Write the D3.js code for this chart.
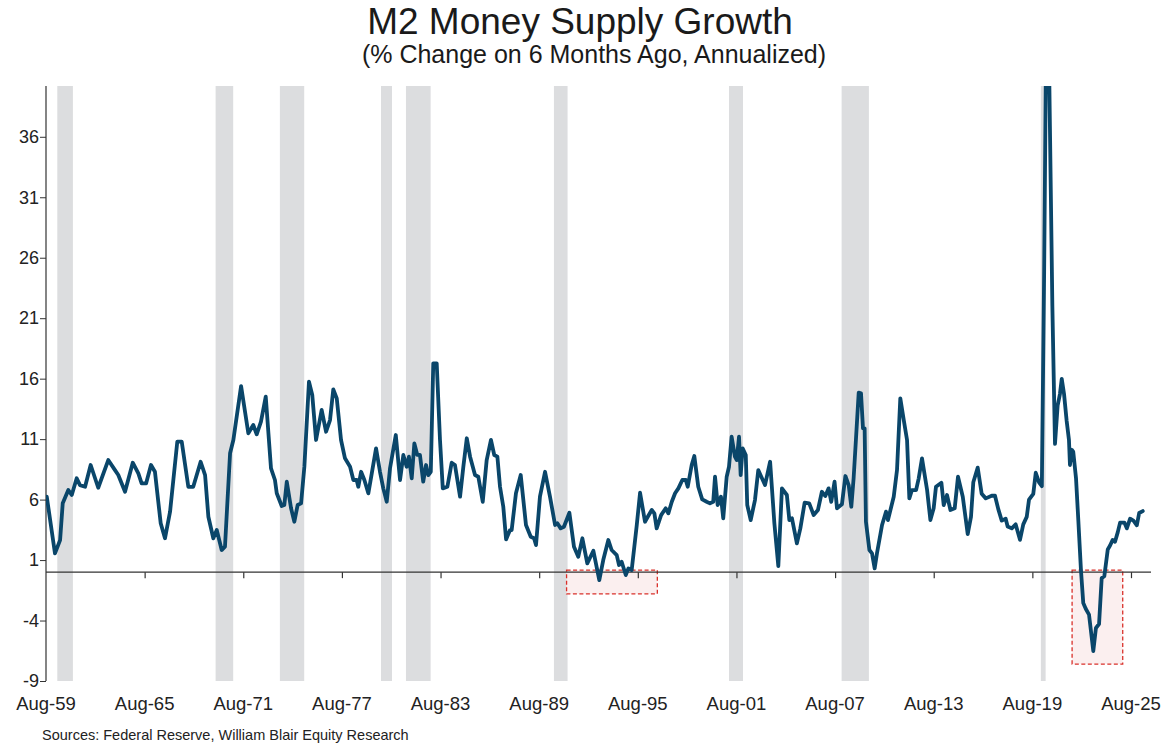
<!DOCTYPE html>
<html><head><meta charset="utf-8">
<script src="https://cdn.jsdelivr.net/npm/d3@7"></script>
<style>
html,body{margin:0;padding:0;background:#fff;}
svg{display:block;font-family:"Liberation Sans",Arial,sans-serif;}
</style></head>
<body>
<svg id="chart" width="1170" height="746"></svg>
<script>
// ---- data (decimal years, % change on 6 months ago annualized) ----
const dates = [1959.63,1960.13,1960.44,1960.6,1960.94,1961.15,1961.45,1961.65,1961.96,1962.3,1962.76,1963.37,1963.78,1963.98,1964.39,1964.86,1965.2,1965.4,1965.67,1965.97,1966.21,1966.56,1966.82,1967.13,1967.57,1967.84,1968.24,1968.54,1968.99,1969.26,1969.46,1969.76,1969.97,1970.27,1970.47,1970.78,
1970.98,1971.45,1971.89,1972.19,1972.4,1972.66,1972.95,1973.27,1973.51,1973.62,1973.92,1974.08,1974.23,1974.49,1974.69,1974.89,1975.1,1975.3,1975.58,1975.78,1976.01,1976.35,1976.62,1976.86,1977.06,1977.27,1977.53,1977.77,1978.08,1978.28,1978.48,1978.58,1978.75,1978.95,1979.19,1979.4,1979.66,1979.9,1980.1,1980.31,1980.51,1980.86,1981.12,1981.32,1981.52,1981.66,1981.83,1981.99,
1982.17,1982.33,1982.53,1982.7,1982.84,1982.99,1983.14,1983.35,1983.55,1983.72,1984.0,1984.26,1984.46,1984.77,1984.97,1985.18,1985.38,1985.68,1985.88,1986.15,1986.39,1986.65,1986.85,1987.04,1987.2,1987.4,1987.57,1987.81,1987.91,1988.17,1988.46,1988.78,1989.07,1989.27,1989.39,1989.63,1989.94,1990.24,1990.55,1990.69,1990.89,1991.09,1991.42,1991.7,1991.96,1992.21,1992.51,1992.88,1993.24,
1993.48,1993.79,1993.99,1994.3,1994.44,1994.6,1994.85,1995.01,1995.21,1995.52,1995.72,1996.02,1996.19,1996.43,1996.59,1996.73,1997.0,1997.28,1997.44,1997.65,1997.85,1998.05,1998.29,1998.5,1998.62,1998.86,1999.02,1999.26,1999.5,1999.77,1999.97,2000.17,2000.28,2000.44,2000.64,2000.78,2000.99,2001.13,2001.29,2001.49,2001.6,2001.74,2001.84,2001.96,2002.15,2002.24,2002.45,2002.71,2002.91,2003.32,2003.63,2003.89,2004.13,
2004.35,2004.65,2004.8,2004.96,2005.26,2005.47,2005.73,2006.01,2006.28,2006.54,2006.78,2006.99,2007.19,2007.35,2007.55,2007.7,2008.0,2008.21,2008.41,2008.57,2008.71,2008.85,2009.02,2009.16,2009.28,2009.38,2009.46,2009.67,2009.83,2009.99,2010.13,2010.44,2010.68,2010.8,2011.15,2011.35,2011.55,2011.76,2011.96,2012.1,2012.26,2012.51,2012.67,2012.87,2013.18,2013.38,2013.58,2013.72,2014.05,2014.19,2014.39,2014.6,2014.86,2015.06,2015.35,
2015.65,2015.85,2015.99,2016.26,2016.5,2016.75,2017.11,2017.31,2017.51,2017.72,2017.96,2018.08,2018.33,2018.57,2018.83,2019.03,2019.24,2019.38,2019.64,2019.79,2019.99,2020.16,2020.3,2020.42,2020.58,2020.8,2020.96,2021.12,2021.26,2021.37,2021.51,2021.67,2021.81,2021.87,2021.98,2022.07,2022.24,2022.38,2022.54,2022.68,2022.83,2023.03,2023.29,2023.45,2023.64,2023.8,2023.96,2024.17,2024.31,2024.47,2024.61,2024.78,2024.92,2025.18,2025.33,2025.53,2025.73,2025.94,2026.08,2026.3];
const values = [6.24,1.55,2.65,5.69,6.79,6.38,7.76,7.2,7.06,8.86,6.98,9.27,8.44,8.03,6.65,9.05,8.17,7.34,7.34,8.86,8.3,4.04,2.8,5.0,10.79,10.79,7.06,7.06,9.13,8.03,4.58,2.8,3.48,1.83,2.1,9.83,
10.93,15.39,11.48,12.17,11.4,12.44,14.51,8.59,7.62,6.52,5.47,5.55,7.48,5.28,4.17,5.55,5.69,8.72,15.75,14.65,10.93,13.41,11.61,12.58,15.12,14.37,10.93,9.41,8.72,7.62,7.62,7.06,8.3,7.62,6.52,8.17,10.24,8.3,6.93,5.82,8.59,11.34,7.62,9.69,8.72,9.55,7.76,10.65,
9.69,9.69,7.48,8.86,8.03,8.3,17.27,17.27,10.93,6.93,7.06,9.05,8.86,6.24,8.72,11.07,9.55,8.03,7.89,5.82,9.27,10.93,9.69,9.55,7.06,5.41,2.71,3.48,3.48,6.52,8.03,3.9,2.93,2.8,2.24,6.24,8.3,6.24,3.9,4.04,3.62,3.76,4.91,2.1,1.27,2.8,0.73,1.77,-0.65,
1.0,2.66,1.83,1.41,0.59,0.86,-0.24,0.31,0.17,3.9,6.57,4.17,4.58,5.14,4.86,3.62,4.72,5.28,4.86,5.82,6.52,6.93,7.62,7.62,7.06,8.86,9.6,7.06,6.02,5.82,5.69,5.82,7.89,5.55,6.24,4.45,7.89,8.72,11.2,9.55,9.27,11.2,8.03,10.24,9.69,5.55,4.31,5.96,8.44,7.2,9.13,4.04,0.5,
6.93,6.38,4.31,4.45,2.38,3.62,5.74,5.69,4.72,5.14,6.65,6.29,6.93,5.82,7.48,5.28,5.61,7.95,7.2,5.41,7.76,10.93,14.84,14.79,11.89,11.89,4.17,1.83,1.55,0.31,1.55,3.9,5.0,4.31,6.24,8.44,14.37,12.58,10.93,6.1,6.79,6.79,7.76,9.41,6.79,4.31,5.28,7.06,7.39,5.55,6.38,5.14,5.28,7.89,6.24,
3.15,4.57,7.43,8.64,6.48,6.1,6.32,6.32,5.21,4.26,4.42,3.78,3.62,3.95,2.67,3.95,4.57,6.0,6.48,8.22,7.43,7.11,24.85,44.0,44.0,22.0,10.6,13.76,14.73,15.98,14.73,12.5,10.93,8.86,10.12,9.97,7.74,4.26,0.14,-2.56,-3.03,-3.51,-6.52,-4.62,-4.29,-0.49,-0.34,1.88,2.2,2.67,2.51,3.31,4.1,4.1,3.62,4.42,4.26,3.88,4.89,5.05];

// recessions (start, end in decimal years)
const recessionStarts = [1960.27,1969.9,1973.81,1979.96,1981.48,1990.48,2001.13,2007.98,2020.1];
const recessionEnds   = [1961.22,1970.97,1975.29,1980.63,1982.98,1991.31,2001.98,2009.64,2020.39];

// highlighted contraction boxes
const boxStarts = [1991.25,2022.0];
const boxEnds   = [1996.77,2025.08];
const boxTops   = [0.17,0.17];
const boxBottoms= [-1.8,-7.6];

const xTickYears  = [1959.583,1965.583,1971.583,1977.583,1983.583,1989.583,1995.583,2001.583,2007.583,2013.583,2019.583,2025.583];
const xTickLabels = ["Aug-59","Aug-65","Aug-71","Aug-77","Aug-83","Aug-89","Aug-95","Aug-01","Aug-07","Aug-13","Aug-19","Aug-25"];
const yTicks = [-9,-4,1,6,11,16,21,26,31,36];

const titleText = "M2 Money Supply Growth";
const subtitleText = "(% Change on 6 Months Ago, Annualized)";
const sourceText = "Sources: Federal Reserve, William Blair Equity Research";

// ---- layout ----
const svg = d3.select("#chart");
const pLeft = 46, pRight = 1151, pTop = 86, pBottom = 681;
const x = d3.scaleLinear().domain([1959.583, 2026.8]).range([pLeft, pRight]);
const y = d3.scaleLinear().domain([-9, 40.2]).range([pBottom, pTop]);

svg.append("defs").append("clipPath").attr("id","clip")
  .append("rect").attr("x",pLeft).attr("y",pTop).attr("width",pRight-pLeft).attr("height",pBottom-pTop);

// recession bands
svg.append("g").selectAll("rect").data(recessionStarts).join("rect")
  .attr("x", (d)=>x(d))
  .attr("width", (d,i)=>x(recessionEnds[i])-x(d))
  .attr("y", pTop).attr("height", pBottom-pTop)
  .attr("fill", "#dcdddf");

// boxes
svg.append("g").selectAll("rect").data(boxStarts).join("rect")
  .attr("x", d=>x(d))
  .attr("width", (d,i)=>x(boxEnds[i])-x(d))
  .attr("y", (d,i)=>y(boxTops[i]))
  .attr("height", (d,i)=>y(boxBottoms[i])-y(boxTops[i]))
  .attr("fill", "#fbefef")
  .attr("stroke", "#d9302a")
  .attr("stroke-width", 1.3)
  .attr("stroke-dasharray", "4,2.5");

// y axis
const yAxis = d3.axisLeft(y).tickValues(yTicks).tickSize(6).tickFormat(d => String(d));
const gy = svg.append("g").attr("transform", `translate(${pLeft},0)`).call(yAxis);
gy.select(".domain").attr("d", `M0,${pTop}V${pBottom}`).attr("stroke","#333").attr("stroke-width",1.2);
gy.selectAll(".tick line").attr("stroke","#333");
gy.selectAll(".tick text").attr("font-size", 18).attr("fill","#222").attr("x",-7)
  .attr("font-family","'Liberation Sans',Arial,sans-serif");

// x axis at zero
const xAxis = d3.axisBottom(x).tickValues(xTickYears).tickSize(6).tickFormat("");
const gx = svg.append("g").attr("transform", `translate(0,${y(0)})`).call(xAxis);
gx.select(".domain").attr("d", `M${pLeft},0H${pRight}`).attr("stroke","#333").attr("stroke-width",1.2);
gx.selectAll(".tick line").attr("stroke","#333").attr("stroke-width",1.2)
  .attr("opacity",(d,i)=> i===0 ? 0 : 1);

// x labels at bottom
svg.append("g").selectAll("text").data(xTickYears).join("text")
  .attr("x", d=>x(d)).attr("y", 710)
  .attr("text-anchor","middle").attr("font-size",18.5).attr("fill","#222")
  .text((d,i)=>xTickLabels[i]);

// line
const line = d3.line().x((d)=>x(d)).y((d,i)=>y(values[i])).curve(d3.curveLinear);
svg.append("path").datum(dates)
  .attr("clip-path","url(#clip)")
  .attr("d", line)
  .attr("fill","none")
  .attr("stroke","#0a466a")
  .attr("stroke-width",3.8)
  .attr("stroke-linejoin","round")
  .attr("stroke-linecap","round");

// titles
svg.append("text").attr("x",580).attr("y",34).attr("text-anchor","middle")
  .attr("font-size",37).attr("fill","#1a1a1a").text(titleText);
svg.append("text").attr("x",594).attr("y",63).attr("text-anchor","middle")
  .attr("font-size",25).attr("fill","#1a1a1a").text(subtitleText);
svg.append("text").attr("x",42).attr("y",740)
  .attr("font-size",14.5).attr("fill","#222").text(sourceText);
</script>
</body></html>
